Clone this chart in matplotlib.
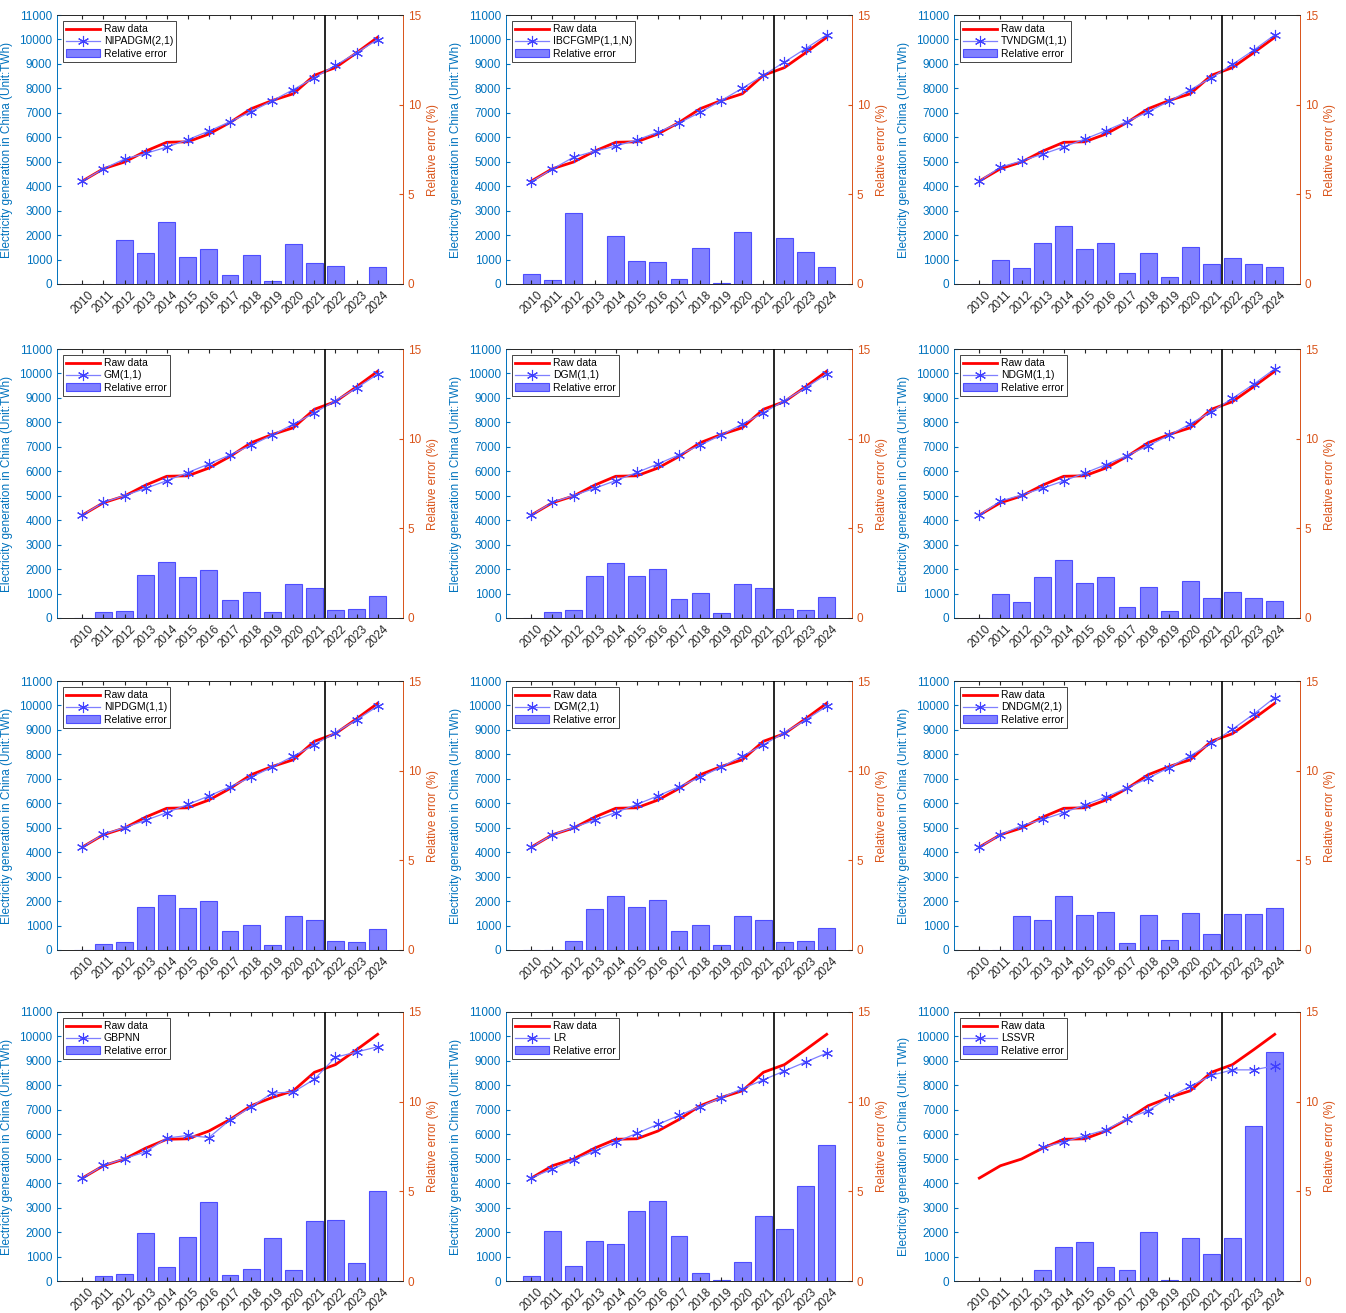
#!/usr/bin/env python3
"""
Fitted vs raw electricity generation in China for 12 models,
with relative error bars on a second y axis.
"""

import numpy as np
import matplotlib.pyplot as plt

plt.rcParams['font.family'] = ['Liberation Sans', 'DejaVu Sans']

# Years and raw data (TWh)
years = [2010, 2011, 2012, 2013, 2014, 2015, 2016, 2017,
         2018, 2019, 2020, 2021, 2022, 2023, 2024]
raw = [4208, 4713, 4988, 5432, 5795, 5815, 6133, 6604,
       7166, 7503, 7779, 8534, 8849, 9456, 10087]

# Model names (panel order, row by row)
model_names = ['NIPADGM(2,1)', 'IBCFGMP(1,1,N)', 'TVNDGM(1,1)',
               'GM(1,1)', 'DGM(1,1)', 'NDGM(1,1)',
               'NIPDGM(1,1)', 'DGM(2,1)', 'DNDGM(2,1)',
               'GBPNN', 'LR', 'LSSVR']

# Fitted / forecast values (TWh)
pred_nipadgm21 = [4208, 4713, 5110, 5338, 5598, 5902, 6252, 6636, 7048, 7490, 7950, 8435, 8937, 9458, 9995]
pred_ibcfgmp = [4190, 4700, 5185, 5430, 5640, 5890, 6205, 6585, 7020, 7500, 8005, 8535, 9077, 9626, 10183]
pred_tvndgm = [4208, 4777, 5033, 5309, 5607, 5928, 6272, 6643, 7043, 7472, 7939, 8438, 8979, 9559, 10185]
pred_gm11 = [4208, 4728, 5006, 5302, 5615, 5948, 6299, 6671, 7062, 7480, 7925, 8390, 8889, 9410, 9966]
pred_dgm11 = [4208, 4730, 5009, 5304, 5618, 5950, 6300, 6673, 7066, 7483, 7927, 8393, 8891, 9414, 9970]
pred_ndgm11 = [4208, 4777, 5033, 5309, 5607, 5928, 6272, 6643, 7043, 7472, 7939, 8438, 8979, 9559, 10185]
pred_nipdgm11 = [4208, 4730, 5009, 5304, 5618, 5950, 6300, 6673, 7066, 7483, 7927, 8393, 8891, 9414, 9970]
pred_dgm21 = [4208, 4713, 5012, 5308, 5621, 5953, 6303, 6675, 7067, 7483, 7927, 8390, 8888, 9409, 9965]
pred_dndgm21 = [4208, 4713, 5083, 5340, 5621, 5929, 6262, 6628, 7026, 7462, 7939, 8458, 9026, 9645, 10321]
pred_gbpnn = [4208, 4724, 5005, 5285, 5841, 5955, 5864, 6588, 7120, 7683, 7728, 8250, 9151, 9362, 9581]
pred_lr = [4220, 4585, 4950, 5313, 5678, 6041, 6406, 6770, 7133, 7498, 7862, 8227, 8591, 8955, 9319]
pred_lssvr = [np.nan, np.nan, np.nan, 5467, 5686, 5941, 6180, 6636, 6968, 7510, 7962, 8409, 8634, 8634, 8800]

# Relative errors (%)
err_nipadgm21 = [0.02, 0.01, 2.45, 1.73, 3.44, 1.50, 1.94, 0.48, 1.64, 0.18, 2.21, 1.16, 1.00, 0.01, 0.94]
err_ibcfgmp = [0.57, 0.23, 3.98, 0.01, 2.67, 1.31, 1.20, 0.26, 2.02, 0.07, 2.90, 0.01, 2.58, 1.80, 0.95]
err_tvndgm = [0.01, 1.36, 0.91, 2.26, 3.25, 1.95, 2.26, 0.60, 1.72, 0.41, 2.06, 1.13, 1.47, 1.09, 0.97]
err_gm11 = [0.01, 0.31, 0.37, 2.39, 3.11, 2.28, 2.70, 1.01, 1.45, 0.31, 1.87, 1.69, 0.45, 0.49, 1.20]
err_dgm11 = [0.01, 0.34, 0.42, 2.36, 3.05, 2.32, 2.71, 1.04, 1.39, 0.27, 1.90, 1.65, 0.48, 0.45, 1.16]
err_ndgm11 = [0.01, 1.36, 0.91, 2.26, 3.25, 1.95, 2.26, 0.60, 1.72, 0.41, 2.06, 1.13, 1.47, 1.09, 0.97]
err_nipdgm11 = [0.01, 0.34, 0.42, 2.37, 3.07, 2.32, 2.73, 1.04, 1.40, 0.27, 1.91, 1.65, 0.48, 0.45, 1.16]
err_dgm21 = [0.01, 0.01, 0.49, 2.29, 3.00, 2.37, 2.77, 1.08, 1.38, 0.27, 1.90, 1.69, 0.44, 0.50, 1.21]
err_dndgm21 = [0.01, 0.01, 1.90, 1.69, 3.00, 1.96, 2.11, 0.37, 1.95, 0.55, 2.06, 0.89, 2.00, 2.00, 2.32]
err_gbpnn = [0.01, 0.30, 0.37, 2.69, 0.80, 2.43, 4.40, 0.33, 0.65, 2.40, 0.61, 3.33, 3.42, 1.01, 5.02]
err_lr = [0.29, 2.78, 0.83, 2.22, 2.06, 3.89, 4.45, 2.50, 0.46, 0.07, 1.08, 3.60, 2.92, 5.29, 7.61]
err_lssvr = [0, 0, 0, 0.64, 1.87, 2.17, 0.76, 0.61, 2.75, 0.08, 2.37, 1.50, 2.40, 8.62, 12.79]

preds = [pred_nipadgm21, pred_ibcfgmp, pred_tvndgm, pred_gm11, pred_dgm11, pred_ndgm11,
         pred_nipdgm11, pred_dgm21, pred_dndgm21, pred_gbpnn, pred_lr, pred_lssvr]
errs = [err_nipadgm21, err_ibcfgmp, err_tvndgm, err_gm11, err_dgm11, err_ndgm11,
        err_nipdgm11, err_dgm21, err_dndgm21, err_gbpnn, err_lr, err_lssvr]

# MATLAB-ish colours
LEFT_C = '#0072BD'
RIGHT_C = '#D95319'

W, H = 1346, 1313
fig = plt.figure(figsize=(W / 100, H / 100), dpi=100)

col_left = [57, 506, 954]
row_top = [15, 349, 681, 1012]
ax_w, ax_h = 346, 269

for k, name in enumerate(model_names):
    r, c = divmod(k, 3)
    rect = [col_left[c] / W, 1 - (row_top[r] + ax_h) / H, ax_w / W, ax_h / H]
    ax = fig.add_axes(rect)
    ax2 = ax.twinx()
    # lines in front of bars
    ax.set_zorder(ax2.get_zorder() + 1)
    ax.patch.set_visible(False)

    bars = ax2.bar(years, errs[k], width=0.8, color='#8080ff',
                   edgecolor='#4d4dff', linewidth=0.8)
    ax2.set_ylim(0, 15)
    ax2.set_yticks([0, 5, 10, 15])
    ax2.set_ylabel('Relative error (%)', color=RIGHT_C, fontsize=8.5)
    ax2.tick_params(axis='y', colors=RIGHT_C, labelsize=8.5, direction='in', length=3)

    l_raw, = ax.plot(years, raw, color='red', lw=2, zorder=3)
    l_pred, = ax.plot(years, preds[k], '-', color='#7f7fff', lw=0.9,
                      marker=(6, 2, 0), markersize=8,
                      markeredgecolor='#4040ff', markeredgewidth=0.8, zorder=4)
    ax.axvline(2021.5, color='black', lw=1.2, zorder=5)

    ax.set_xlim(2008.8, 2025.2)
    ax.set_ylim(0, 11000)
    ax.set_yticks(np.arange(0, 11001, 1000))
    ax.set_xticks(years)
    ax.set_xticklabels([str(y) for y in years], rotation=45, fontsize=8.5)
    ax.tick_params(axis='x', direction='in', length=3, top=True, colors='#262626')
    ax.tick_params(axis='y', colors=LEFT_C, labelsize=8.5, direction='in', length=3)
    ylab = 'Electricity generation in China (Unit: TWh)' if name == 'LSSVR' \
        else 'Electricity generation in China (Unit:TWh)'
    ax.set_ylabel(ylab, color=LEFT_C, fontsize=8.5)

    for a in (ax, ax2):
        a.spines['left'].set_color(LEFT_C)
        a.spines['right'].set_color(RIGHT_C)
        a.spines['top'].set_color('#262626')
        a.spines['bottom'].set_color('#262626')
        for s in a.spines.values():
            s.set_linewidth(0.6)

    leg = ax.legend([l_raw, l_pred, bars], ['Raw data', name, 'Relative error'],
                    loc='upper left', fontsize=7.5, fancybox=False, framealpha=1,
                    edgecolor='#262626', borderpad=0.3, labelspacing=0.2,
                    handlelength=3.2, handletextpad=0.4, borderaxespad=0.6)
    leg.get_frame().set_linewidth(0.6)

fig.savefig('out.png', dpi=100)
